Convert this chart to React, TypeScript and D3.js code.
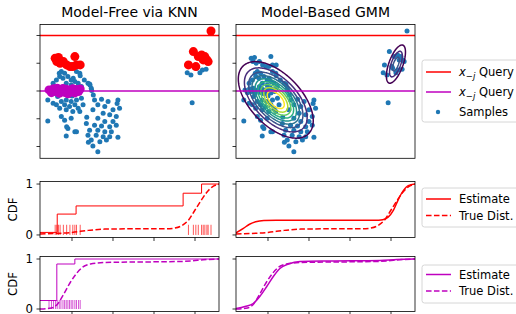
import React, { useMemo } from 'react'
import * as d3 from 'd3'

const W = 516
const H = 314

// samples (x_j, x_-j) that are not picked as neighbours
const otherSamples: [number, number][] = [
  [-1.26, 0.7], [-1.18, 0.64], [-0.89, 0.7], [-0.81, 0.64], [-1.3, 0.52], [-1.22, 0.46], [-1.1, 0.52],
  [-1.02, 0.4], [-0.93, 0.34], [-0.85, 0.28], [-1.14, 0.28], [-1.02, 0.22], [-0.77, 0.16], [-0.61, 0.28],
  [-0.53, 0.1], [-1.18, 0.1], [-1.06, 0.04], [-1.46, 0.28], [-1.31, 0.64], [-0.97, 0.46], [-0.8, 0.55],
  [-1.21, 0.15], [-0.95, 0.12], [-0.56, 0.22], [-0.52, 0.02], [-1.38, 0.4], [-0.7, 0.4],
  [-1.59, -0.32], [-1.46, -0.44], [-1.38, -0.5], [-1.26, -0.38], [-1.14, -0.32], [-1.02, -0.38],
  [-0.89, -0.32], [-0.77, -0.26], [-1.18, -0.5], [-1.06, -0.56], [-0.93, -0.5], [-0.85, -0.62],
  [-1.3, -0.62], [-1.14, -0.68], [-0.98, -0.74], [-0.81, -0.74], [-0.73, -0.5], [-1.26, -0.92],
  [-1.18, -1.05], [-1.02, -0.98], [-1.59, -1.08], [-1.1, -1.35], [-0.93, -1.47], [-1.14, -1.62],
  [-1.13, -1.29], [-0.89, -1.47], [-1.35, -0.2], [-1.0, -0.18],
  [-0.57, 0.25], [-0.45, -0.32], [-0.28, -0.3], [-0.12, -0.38], [0.12, -0.32], [-0.37, -0.5],
  [-0.2, -0.56], [0.16, -0.62], [0.0, -0.68], [-0.49, -0.68], [-0.24, -0.8], [-0.08, -0.86],
  [0.08, -0.92], [-0.37, -0.98], [-0.2, -1.1], [0.0, -1.1], [-0.65, -1.17], [-0.45, -1.23],
  [-0.28, -1.26], [-0.08, -1.29], [0.08, -1.23], [-0.57, -1.41], [-0.37, -1.41], [-0.2, -1.47],
  [-0.04, -1.47], [-0.61, -1.59], [-0.41, -1.59], [-0.24, -1.65], [-0.08, -1.65], [0.12, -1.67],
  [-0.53, -1.77], [-0.32, -1.83], [-0.16, -1.77], [-0.49, -1.98], [-0.37, -2.19], [-0.48, -0.14],
  [0.1, -0.45], [-0.64, -0.95], [-0.6, -1.85],
  [1.81, 0.66], [1.9, 0.58], [2.12, 0.66], [2.27, 0.78], [2.04, 0.82], [2.18, 0.76], [1.93, -0.42],
]

// nearest neighbours of the red query
const redKnn: [number, number][] = [
  [-1.41, 1.18], [-1.33, 1.21], [-1.37, 1.06], [-1.29, 1.0], [-1.21, 1.06], [-1.13, 0.94], [-1.05, 0.88],
  [-0.93, 1.24], [-0.89, 0.94], [-0.8, 0.94], [-0.98, 0.88],
  [1.84, 0.94], [1.96, 1.42], [2.02, 0.88], [2.08, 1.24], [2.16, 1.3], [2.24, 1.24], [2.29, 1.12],
  [2.32, 1.06], [2.2, 1.12], [2.39, 2.16],
]

// nearest neighbours of the magenta query
const magentaKnn: [number, number][] = [
  [-1.56, 0.04], [-1.5, -0.06], [-1.45, 0.08], [-1.4, -0.02], [-1.36, 0.1], [-1.31, -0.08],
  [-1.27, 0.02], [-1.22, 0.09], [-1.18, -0.05], [-1.14, 0.06], [-1.1, -0.1], [-1.06, 0.03],
  [-1.02, -0.04], [-0.98, 0.08], [-0.93, -0.07], [-0.89, 0.05], [-0.84, -0.02], [-0.8, 0.07],
]

const samples = [...otherSamples, ...redKnn, ...magentaKnn]

const redQuery = 2
const magentaQuery = 0

// CDF curves [x, cdf]
const redStepEst: [number, number][] = [[-1.78, 0.05], [-1.36, 0.41], [-0.9, 0.57], [1.71, 0.82], [2.16, 1.0], [2.6, 1.0]]
const redTrue: [number, number][] = [
  [-1.78, 0.02], [-1.4, 0.03], [-1.0, 0.05], [-0.6, 0.09], [-0.2, 0.115], [0.5, 0.12], [1.3, 0.12],
  [1.5, 0.135], [1.67, 0.18], [1.84, 0.29], [2.0, 0.49], [2.16, 0.69], [2.3, 0.85], [2.45, 0.96], [2.6, 1.0],
]
const redGmmEst: [number, number][] = [
  [-1.78, 0.04], [-1.6, 0.13], [-1.45, 0.21], [-1.3, 0.26], [-1.1, 0.285], [-0.8, 0.29], [0.5, 0.29],
  [1.6, 0.29], [1.8, 0.3], [1.93, 0.35], [2.06, 0.49], [2.18, 0.7], [2.3, 0.87], [2.42, 0.97], [2.6, 1.0],
]
const magentaStepEst: [number, number][] = [[-1.78, 0.17], [-1.37, 0.9], [-0.93, 1.0], [2.6, 1.0]]
const magentaTrue: [number, number][] = [
  [-1.78, 0.0], [-1.5, 0.02], [-1.35, 0.1], [-1.2, 0.3], [-1.05, 0.52], [-0.9, 0.7], [-0.75, 0.83],
  [-0.55, 0.9], [-0.2, 0.93], [0.5, 0.94], [1.3, 0.945], [1.9, 0.96], [2.2, 0.985], [2.6, 1.0],
]
const magentaGmmEst: [number, number][] = [
  [-1.78, 0.01], [-1.56, 0.05], [-1.36, 0.11], [-1.2, 0.25], [-1.03, 0.45], [-0.87, 0.65], [-0.71, 0.81],
  [-0.5, 0.9], [-0.22, 0.95], [0.51, 0.96], [1.73, 0.97], [2.14, 0.99], [2.6, 1.0],
]

// fitted GMM
const gmmWeights = [0.93, 0.07]
const gmmMeans = [[-0.81, -0.32], [2.12, 0.97]]
const gmmCovs = [
  [[0.18, -0.148], [-0.148, 0.41]],
  [[0.0214, 0.04], [0.04, 0.1877]],
]
const contourLevels = [0.064, 0.128, 0.192, 0.256, 0.32, 0.384, 0.448, 0.512, 0.576]

const xTicks = [-1, 0, 1, 2]
const yTicksTop = [-2, -1, 0, 1, 2]
const cdfTicks = [0, 1]

const RED = '#ff0000'
const MAG = '#bf00bf'
const BLUE = '#1f77b4'
const FONT = 'DejaVu Sans'

const colX = [40, 236]
const PW = 179

function gmmDensity(x: number, y: number) {
  let s = 0
  gmmWeights.forEach((w, k) => {
    const [mx, my] = gmmMeans[k]
    const a = gmmCovs[k][0][0], b = gmmCovs[k][0][1], d = gmmCovs[k][1][1]
    const det = a * d - b * b
    const dx = x - mx, dy = y - my
    const q = (d * dx * dx - 2 * b * dx * dy + a * dy * dy) / det
    s += (w * Math.exp(-0.5 * q)) / (2 * Math.PI * Math.sqrt(det))
  })
  return s
}

function Frame({ x0, y0, y1, xScale, yScale, yTicks, xTicksOn, labels }: any) {
  return (
    <g>
      <rect x={x0} y={y0} width={PW} height={y1 - y0} fill="none" stroke="#000" strokeWidth={0.8} />
      {yTicks.map((t: number) => (
        <g key={'y' + t}>
          <line x1={x0 - 3.5} x2={x0} y1={yScale(t)} y2={yScale(t)} stroke="#000" strokeWidth={0.8} />
          {labels && (
            <text x={x0 - 7} y={yScale(t) + 4.2} textAnchor="end" fontSize={11.7} fontFamily={FONT}>{t}</text>
          )}
        </g>
      ))}
      {xTicksOn && xTicks.map(t => (
        <line key={'x' + t} x1={xScale(t)} x2={xScale(t)} y1={y1} y2={y1 + 3.5} stroke="#000" strokeWidth={0.8} />
      ))}
    </g>
  )
}

function Legend({ y, h, first, step, items }: any) {
  return (
    <g fontFamily={FONT} fontSize={11.5}>
      <rect x={422} y={y} width={110} height={h} rx={2.5} fill="#fff" fillOpacity={0.8} stroke="#cccccc" strokeWidth={0.8} />
      {items.map((it: any, i: number) => {
        const cy = y + first + i * step
        return (
          <g key={i}>
            {it.kind === 'dot'
              ? <circle cx={438} cy={cy} r={2.2} fill={it.color} />
              : <line x1={426} x2={451} y1={cy} y2={cy} stroke={it.color} strokeWidth={1.5} strokeDasharray={it.dash ? '5.55,2.4' : undefined} />}
            {it.label === 'query' ? (
              <text x={459} y={cy + 4.2}>
                <tspan fontStyle="italic">x</tspan>
                <tspan dy={3} fontSize={8.5}>−</tspan>
                <tspan fontStyle="italic" fontSize={8.5}>j</tspan>
                <tspan dy={-3}> Query</tspan>
              </text>
            ) : (
              <text x={459} y={cy + 4.2}>{it.label}</text>
            )}
          </g>
        )
      })}
    </g>
  )
}

export default function App() {
  const domX: [number, number] = [-1.78, 2.585]
  const xL = d3.scaleLinear().domain(domX).range([colX[0], colX[0] + PW])
  const xR = d3.scaleLinear().domain(domX).range([colX[1], colX[1] + PW])
  const topY0 = 24.5, topY1 = 158.3
  const yTop = d3.scaleLinear().domain([-2.425, 2.396]).range([topY1, topY0])
  const yMid = d3.scaleLinear().domain([-0.05, 1.05]).range([237.5, 181.5])
  const yBot = d3.scaleLinear().domain([-0.05, 1.05]).range([311.5, 256.5])

  const contours = useMemo(() => {
    const n = PW
    const m = Math.round(topY1 - topY0)
    const loc = d3.scaleLinear().domain(domX).range([0, PW])
    const vals = new Array(n * m)
    for (let j = 0; j < m; j++) {
      const yv = yTop.invert(topY0 + j + 0.5)
      for (let i = 0; i < n; i++) vals[j * n + i] = gmmDensity(loc.invert(i + 0.5), yv)
    }
    return d3.contours().size([n, m]).thresholds(contourLevels)(vals)
  }, [])
  const geo = d3.geoPath()

  const mkLine = (xs: any, ys: any, curve: any) =>
    d3.line<[number, number]>().x(d => xs(d[0])).y(d => ys(d[1])).curve(curve)

  const stepLine = (xs: any, ys: any) => mkLine(xs, ys, d3.curveStepAfter)
  const smooth = (xs: any, ys: any) => mkLine(xs, ys, d3.curveMonotoneX)
  const dash = '5.55,2.4'

  return (
    <svg width={W} height={H} style={{ position: 'absolute', left: 0, top: 0, background: '#fff' }} fontFamily={FONT}>
      <defs>
        {[['cl0', colX[0]], ['cl1', colX[1]]].map(([id, x]) => (
          <clipPath id={id as string} key={id as string}>
            <rect x={x as number} y={0} width={PW} height={H} />
          </clipPath>
        ))}
      </defs>

      <text x={colX[0] + PW / 2} y={17.3} textAnchor="middle" fontSize={14}>Model-Free via KNN</text>
      <text x={colX[1] + PW / 2} y={17.3} textAnchor="middle" fontSize={14}>Model-Based GMM</text>

      {/* top left: KNN */}
      <g clipPath="url(#cl0)">
        {samples.map((p, i) => <circle key={i} cx={xL(p[0])} cy={yTop(p[1])} r={2.5} fill={BLUE} />)}
        <line x1={colX[0]} x2={colX[0] + PW} y1={yTop(redQuery)} y2={yTop(redQuery)} stroke={RED} strokeWidth={1.5} />
        <line x1={colX[0]} x2={colX[0] + PW} y1={yTop(magentaQuery)} y2={yTop(magentaQuery)} stroke={MAG} strokeWidth={1.5} />
        {redKnn.map((p, i) => <circle key={'r' + i} cx={xL(p[0])} cy={yTop(p[1])} r={4.5} fill={RED} />)}
        {magentaKnn.map((p, i) => <circle key={'m' + i} cx={xL(p[0])} cy={yTop(p[1])} r={4.5} fill={MAG} />)}
      </g>
      <Frame x0={colX[0]} y0={topY0} y1={topY1} xScale={xL} yScale={yTop} yTicks={yTicksTop} xTicksOn={false} labels={false} />

      {/* top right: GMM */}
      <g clipPath="url(#cl1)">
        {samples.map((p, i) => <circle key={i} cx={xR(p[0])} cy={yTop(p[1])} r={2.5} fill={BLUE} />)}
        <g transform={`translate(${colX[1]},${topY0})`}>
          {contours.map((c, i) => (
            <path key={i} d={geo(c) || ''} fill="none" stroke={d3.interpolateViridis(i / (contourLevels.length - 1))} strokeWidth={1.5} />
          ))}
        </g>
        <line x1={colX[1]} x2={colX[1] + PW} y1={yTop(redQuery)} y2={yTop(redQuery)} stroke={RED} strokeWidth={1.5} />
        <line x1={colX[1]} x2={colX[1] + PW} y1={yTop(magentaQuery)} y2={yTop(magentaQuery)} stroke={MAG} strokeWidth={1.5} />
      </g>
      <Frame x0={colX[1]} y0={topY0} y1={topY1} xScale={xR} yScale={yTop} yTicks={yTicksTop} xTicksOn={false} labels={false} />

      {/* middle row: red query CDFs */}
      <g clipPath="url(#cl0)">
        {redKnn.map((p, i) => (
          <line key={i} x1={xL(p[0])} x2={xL(p[0])} y1={yMid(0)} y2={yMid(0.2)} stroke={RED} strokeWidth={1} opacity={0.65} />
        ))}
        <path d={stepLine(xL, yMid)(redStepEst) || ''} fill="none" stroke={RED} strokeWidth={1} />
        <path d={smooth(xL, yMid)(redTrue) || ''} fill="none" stroke={RED} strokeWidth={1.5} strokeDasharray={dash} />
      </g>
      <Frame x0={colX[0]} y0={181.5} y1={237.5} xScale={xL} yScale={yMid} yTicks={cdfTicks} xTicksOn labels />
      <g clipPath="url(#cl1)">
        <path d={smooth(xR, yMid)(redGmmEst) || ''} fill="none" stroke={RED} strokeWidth={1.5} />
        <path d={smooth(xR, yMid)(redTrue) || ''} fill="none" stroke={RED} strokeWidth={1.5} strokeDasharray={dash} />
      </g>
      <Frame x0={colX[1]} y0={181.5} y1={237.5} xScale={xR} yScale={yMid} yTicks={cdfTicks} xTicksOn labels={false} />

      {/* bottom row: magenta query CDFs */}
      <g clipPath="url(#cl0)">
        {magentaKnn.map((p, i) => (
          <line key={i} x1={xL(p[0])} x2={xL(p[0])} y1={yBot(0)} y2={yBot(0.18)} stroke={MAG} strokeWidth={1} opacity={0.65} />
        ))}
        <path d={stepLine(xL, yBot)(magentaStepEst) || ''} fill="none" stroke={MAG} strokeWidth={1} />
        <path d={smooth(xL, yBot)(magentaTrue) || ''} fill="none" stroke={MAG} strokeWidth={1.5} strokeDasharray={dash} />
      </g>
      <Frame x0={colX[0]} y0={256.5} y1={311.5} xScale={xL} yScale={yBot} yTicks={cdfTicks} xTicksOn labels />
      <g clipPath="url(#cl1)">
        <path d={smooth(xR, yBot)(magentaGmmEst) || ''} fill="none" stroke={MAG} strokeWidth={1.5} />
        <path d={smooth(xR, yBot)(magentaTrue) || ''} fill="none" stroke={MAG} strokeWidth={1.5} strokeDasharray={dash} />
      </g>
      <Frame x0={colX[1]} y0={256.5} y1={311.5} xScale={xR} yScale={yBot} yTicks={cdfTicks} xTicksOn labels={false} />

      <text transform="translate(17,209.5) rotate(-90)" textAnchor="middle" fontSize={11.7}>CDF</text>
      <text transform="translate(17,284) rotate(-90)" textAnchor="middle" fontSize={11.7}>CDF</text>

      <Legend y={60} h={62} first={12} step={20} items={[
        { kind: 'line', color: RED, label: 'query' },
        { kind: 'line', color: MAG, label: 'query' },
        { kind: 'dot', color: BLUE, label: 'Samples' },
      ]} />
      <Legend y={188} h={39} first={11} step={16.5} items={[
        { kind: 'line', color: RED, label: 'Estimate' },
        { kind: 'line', color: RED, dash: true, label: 'True Dist.' },
      ]} />
      <Legend y={265} h={38} first={9.5} step={16.5} items={[
        { kind: 'line', color: MAG, label: 'Estimate' },
        { kind: 'line', color: MAG, dash: true, label: 'True Dist.' },
      ]} />
    </svg>
  )
}
